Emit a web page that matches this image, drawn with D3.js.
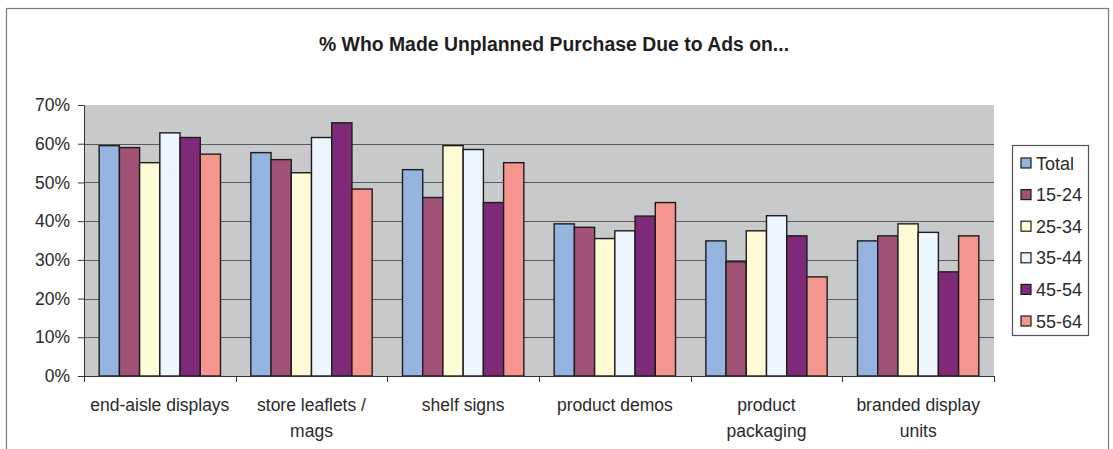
<!DOCTYPE html>
<html>
<head>
<meta charset="utf-8">
<script src="https://cdn.jsdelivr.net/npm/d3@7"></script>
<style>
  html, body { margin: 0; padding: 0; background: #fff; }
  svg { display: block; font-family: "Liberation Sans", Arial, sans-serif; }
</style>
</head>
<body>
<svg id="chart" width="1113" height="449"></svg>
<script>
// Share of shoppers who made an unplanned purchase, by ad type and age band
const categories = [
  "end-aisle displays",
  "store leaflets /\nmags",
  "shelf signs",
  "product demos",
  "product\npackaging",
  "branded display\nunits"
];
const seriesNames = ["Total", "15-24", "25-34", "35-44", "45-54", "55-64"];
const seriesColors = ["#95B4E0", "#A25276", "#FFFBD6", "#EDF6FE", "#7F2A79", "#F5968E"];

const total  = [59.5, 57.7, 53.3, 39.3, 34.9, 34.9];
const age1524 = [59.0, 55.9, 46.1, 38.4, 29.5, 36.2];
const age2534 = [55.1, 52.5, 59.5, 35.5, 37.5, 39.3];
const age3544 = [62.8, 61.6, 58.5, 37.5, 41.4, 37.1];
const age4554 = [61.6, 65.4, 44.8, 41.3, 36.2, 26.9];
const age5564 = [57.3, 48.3, 55.1, 44.8, 25.6, 36.2];
const seriesValues = [total, age1524, age2534, age3544, age4554, age5564];

const yTicks = [0, 10, 20, 30, 40, 50, 60, 70];
const title = "% Who Made Unplanned Purchase Due to Ads on...";

const svg = d3.select("#chart");
const plot = { left: 84, right: 994, top: 105, bottom: 376 };

// Outer chart frame
svg.append("rect")
  .attr("x", 6.5).attr("y", 8.5)
  .attr("width", 1102).attr("height", 460)
  .attr("fill", "#fff").attr("stroke", "#7a7a7a").attr("stroke-width", 1.2);

// Title
svg.append("text")
  .attr("x", 554).attr("y", 51)
  .attr("text-anchor", "middle")
  .attr("font-size", 19.4).attr("font-weight", "bold")
  .attr("fill", "#1e1e1e")
  .text(title);

const x0 = d3.scaleBand().domain(categories).range([plot.left, plot.right]).padding(0);
const x1 = d3.scaleBand().domain(seriesNames).range([0, x0.bandwidth()])
  .paddingInner(0).paddingOuter(0.75);
const y = d3.scaleLinear().domain([0, 70]).range([plot.bottom, plot.top]);

// Plot background
svg.append("rect")
  .attr("x", plot.left).attr("y", plot.top)
  .attr("width", plot.right - plot.left).attr("height", plot.bottom - plot.top)
  .attr("fill", "#C8C9CB");

// Gridlines
svg.append("g").selectAll("line")
  .data(yTicks.filter(t => t > 0 && t < 70))
  .join("line")
  .attr("x1", plot.left).attr("x2", plot.right)
  .attr("y1", d => Math.round(y(d)) + 0.5).attr("y2", d => Math.round(y(d)) + 0.5)
  .attr("stroke", "#5a5a5a").attr("stroke-width", 1);

// Bars
const groups = svg.append("g").selectAll("g")
  .data(categories)
  .join("g")
  .attr("transform", d => `translate(${x0(d)},0)`);

groups.selectAll("rect")
  .data((c, ci) => seriesNames.map((s, si) => ({ s, si, v: seriesValues[si][ci] })))
  .join("rect")
  .attr("x", d => x1(d.s))
  .attr("y", d => y(d.v))
  .attr("width", x1.bandwidth())
  .attr("height", d => y(0) - y(d.v))
  .attr("fill", d => seriesColors[d.si])
  .attr("stroke", "#1c1c1c").attr("stroke-width", 1.4);

// Y axis
const yAxis = d3.axisLeft(y).tickValues(yTicks).tickFormat(d => d + "%")
  .tickSizeInner(6).tickSizeOuter(0).tickPadding(8);
const gy = svg.append("g").attr("transform", `translate(${plot.left},0)`).call(yAxis);
gy.select(".domain").attr("stroke", "#333");
gy.selectAll(".tick line").attr("stroke", "#333");
gy.selectAll(".tick text").attr("font-size", 17.5).attr("fill", "#2a2a2a")
  .attr("font-family", "Liberation Sans, Arial, sans-serif");

// X axis with ticks on category boundaries
svg.append("line")
  .attr("x1", plot.left).attr("x2", plot.right)
  .attr("y1", plot.bottom + 0.5).attr("y2", plot.bottom + 0.5)
  .attr("stroke", "#333");
const boundaries = categories.map(c => x0(c)).concat([plot.right]);
svg.append("g").selectAll("line")
  .data(boundaries)
  .join("line")
  .attr("x1", d => Math.round(d) + 0.5).attr("x2", d => Math.round(d) + 0.5)
  .attr("y1", plot.bottom).attr("y2", plot.bottom + 6)
  .attr("stroke", "#333");

const xl = svg.append("g").selectAll("text")
  .data(categories)
  .join("text")
  .attr("x", d => x0(d) + x0.bandwidth() / 2)
  .attr("y", 411)
  .attr("text-anchor", "middle")
  .attr("font-size", 17.5).attr("fill", "#2a2a2a");
xl.selectAll("tspan")
  .data(d => d.split("\n"))
  .join("tspan")
  .attr("x", function () { return d3.select(this.parentNode).attr("x"); })
  .attr("dy", (d, i) => i === 0 ? 0 : 26)
  .text(d => d);

// Legend
const legend = svg.append("g");
legend.append("rect")
  .attr("x", 1012.5).attr("y", 145.5).attr("width", 76).attr("height", 190)
  .attr("fill", "#fff").attr("stroke", "#555").attr("stroke-width", 1.2);
const items = legend.selectAll("g.item")
  .data(seriesNames)
  .join("g").attr("class", "item")
  .attr("transform", (d, i) => `translate(1021,${163 + i * 31.6})`);
items.append("rect")
  .attr("x", 0).attr("y", -5).attr("width", 10).attr("height", 10)
  .attr("fill", (d, i) => seriesColors[i])
  .attr("stroke", "#1c1c1c").attr("stroke-width", 1.2);
items.append("text")
  .attr("x", 15).attr("y", 6.5)
  .attr("font-size", 18).attr("fill", "#2a2a2a")
  .text(d => d);
</script>
</body>
</html>
